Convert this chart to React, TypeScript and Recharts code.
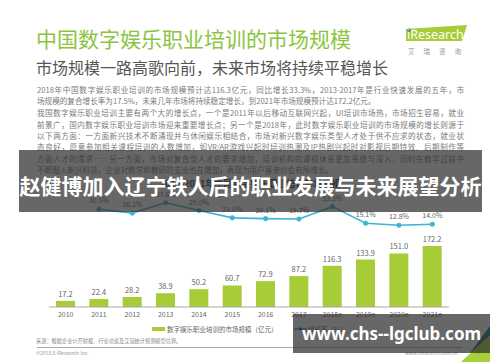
import React from 'react';
import { ComposedChart, Bar, Line, XAxis, YAxis, LabelList } from 'recharts';

const years = ['2010', '2011', '2012', '2013', '2014', '2015', '2016', '2017', '2018e', '2019e', '2020e', '2021e'];
const marketSize = [17.2, 22.4, 28.2, 38.9, 50.2, 60.7, 72.9, 87.2, 116.3, 133.9, 151.0, 172.2];
const growthRate = [null, 30.5, 26.2, 37.6, 29.0, 21.0, 20.1, 19.7, 33.3, 15.1, 12.8, 14.0];

const paragraphLines = [
  '2018年中国数字娱乐职业培训的市场规模预计达116.3亿元，同比增长33.3%，2013-2017年是行业快速发展的五年，市',
  '场规模的复合增长率为17.5%，未来几年市场将持续稳定增长，到2021年市场规模预计达172.2亿元。',
  '我国数字娱乐职业培训主要有两个大的增长点，一个是2011年以后移动互联网兴起，UI培训市场热，市场招生容易，就业',
  '前景广，国内数字娱乐职业培训市场迎来重要增长点；另一个是2018年，此时数字娱乐职业培训的市场规模的增长则源于',
  '以下两方面：一方面新兴技术不断涌现并与休闲娱乐相结合，市场对新兴数字娱乐类型人才处于供不应求的状态，就业状',
  '态良好，愿意参加相关课程培训的人数增加，如VR/AR游戏兴起时培训热潮及IP热剧兴起时对影视后期特效、后期制作等',
  '方面人才的渴求……另一方面，市场对复合型人才的要求增加，培训机构的课程体系更加系统与深入，同时在教学过程中',
  '不断融入新兴科技，企业对教学和教研的支出也在增加，表现为用户客单价会有所增长。',
];
const lineEnds = [false, true, false, false, false, false, false, true];

const rows = years.map((year, i) => ({ year, size: marketSize[i], rate: growthRate[i] }));

const font = '"Noto Sans CJK SC", "Noto Sans", sans-serif';
const green = '#a6cd38';
const cyan = '#3cb5d3';

export default function App() {
  return (
    <div style={{ position: 'absolute', left: 0, top: 0, width: 500, height: 362, background: '#fff', overflow: 'hidden', fontFamily: font }}>
      {/* header */}
      <div style={{ position: 'absolute', left: 36, top: 24, fontSize: 21, color: '#8cc43f', lineHeight: '28px', whiteSpace: 'nowrap' }}>
        中国数字娱乐职业培训的市场规模
      </div>
      <div style={{ position: 'absolute', left: 36, top: 56, fontSize: 16, color: '#555', lineHeight: '22px', whiteSpace: 'nowrap' }}>
        市场规模一路高歌向前，未来市场将持续平稳增长
      </div>
      <svg style={{ position: 'absolute', left: 0, top: 0 }} width={500} height={362}>
        <polygon points="406,29 467,25 462,41 406,41" fill={green} />
        <circle cx={409} cy={30} r={1.6} fill="#1d4f9c" />
        <text x={407} y={39} fontSize={12.5} fill="#fff" fontFamily="Noto Sans, sans-serif">iResearch</text>
        <text x={408} y={54} fontSize={6.5} fill="#999" letterSpacing={9} fontFamily={font}>艾瑞咨询</text>
        <polygon points="470,353 490,326 490,346" fill="#1f6e8a" />
        <polygon points="461,362 490,335 490,362" fill="#a9d03a" />
      </svg>
      {paragraphLines.map((t, i) => (
        <div
          key={i}
          style={{
            position: 'absolute',
            left: 37,
            top: 84 + i * 11.3 + (i >= 2 ? 0.8 : 0),
            width: 427,
            fontSize: 7.6,
            lineHeight: '11px',
            color: '#7a7a7a',
            textAlign: lineEnds[i] ? 'left' : 'justify',
            textAlignLast: lineEnds[i] ? 'left' : 'justify',
          }}
        >
          {t}
        </div>
      ))}
      <div style={{ position: 'absolute', left: 0, width: 500, top: 177, textAlign: 'center', fontSize: 9, fontWeight: 700, color: '#444' }}>
        2010-2021年中国数字娱乐职业培训市场规模
      </div>

      <div style={{ position: 'absolute', left: 0, top: 0 }}>
        <ComposedChart width={500} height={362} data={rows} margin={{ top: 190, right: 51, bottom: 35, left: 49 }}>
          <XAxis
            dataKey="year"
            interval={0}
            height={20}
            tickLine={false}
            tickSize={3}
            axisLine={{ stroke: '#a8a8a8' }}
            tick={{ fontSize: 7, fill: '#666', fontFamily: font }}
          />
          <YAxis yAxisId="bar" domain={[0, 330]} hide />
          <YAxis yAxisId="rate" orientation="right" domain={[-77, 51.6]} hide />
          <Bar yAxisId="bar" dataKey="size" fill={green} barSize={19} isAnimationActive={false}>
            <LabelList
              dataKey="size"
              position="top"
              offset={4}
              fontSize={7.5}
              fill="#666"
              fontFamily={font}
              formatter={(v: any) => Number(v).toFixed(1)}
            />
          </Bar>
          <Line
            yAxisId="rate"
            dataKey="rate"
            stroke={cyan}
            strokeWidth={1.6}
            dot={{ r: 2.3, fill: cyan, stroke: cyan, strokeWidth: 0.5 }}
            isAnimationActive={false}
          >
            <LabelList
              dataKey="rate"
              position="top"
              offset={6}
              fontSize={7}
              fill="#666"
              fontFamily={font}
              formatter={(v: any) => (v == null ? '' : Number(v).toFixed(1) + '%')}
            />
          </Line>
        </ComposedChart>
      </div>

      {/* legend */}
      <div style={{ position: 'absolute', left: 152, top: 322, fontSize: 6.5, color: '#666', lineHeight: '12px', whiteSpace: 'nowrap' }}>
        <span style={{ display: 'inline-block', width: 13, height: 4, background: green, verticalAlign: 'middle', marginRight: 2 }} />
        <span style={{ verticalAlign: 'middle' }}>数字娱乐职业培训的市场规模（亿元）</span>
      </div>
      <div style={{ position: 'absolute', left: 294, top: 322, fontSize: 6.5, color: '#666', lineHeight: '12px', whiteSpace: 'nowrap' }}>
        <svg width={13} height={6} style={{ verticalAlign: 'middle', marginRight: 1 }}>
          <line x1={0} y1={3} x2={13} y2={3} stroke="#1f7f99" strokeWidth={1.2} />
          <circle cx={6.5} cy={3} r={1.8} fill="#1f7f99" />
        </svg>
        <span style={{ verticalAlign: 'middle' }}>增长率（%）</span>
      </div>

      {/* footer */}
      <div style={{ position: 'absolute', left: 36, top: 337, fontSize: 5.2, color: '#888', whiteSpace: 'nowrap' }}>
        来源：根据企业公开财报、行业访谈及艾瑞统计预测模型估算。
      </div>
      <div style={{ position: 'absolute', left: 37, top: 347, width: 425, height: 1, background: '#aaa' }} />
      <div style={{ position: 'absolute', left: 36, top: 349, fontSize: 5, color: '#999', whiteSpace: 'nowrap' }}>©2018.8 iResearch Inc.</div>
      <div style={{ position: 'absolute', left: 405, top: 349, fontSize: 5, color: '#999', whiteSpace: 'nowrap' }}>www.iresearch.com.cn</div>
      <div style={{ position: 'absolute', left: 477, top: 347, fontSize: 6, color: '#999' }}>17</div>

      {/* overlays */}
      <div
        style={{
          position: 'absolute', left: 19, top: 150, width: 463, height: 62,
          background: 'rgba(45,45,45,0.72)', color: '#fff', fontSize: 21, fontWeight: 700,
          lineHeight: '62px', paddingTop: 4, boxSizing: 'border-box', textAlign: 'center', whiteSpace: 'nowrap',
        }}
      >
        赵健博加入辽宁铁人后的职业发展与未来展望分析
      </div>
      <div
        style={{
          position: 'absolute', left: 293, top: 314, width: 197, height: 39,
          background: 'rgba(45,45,45,0.72)', color: '#fff', fontSize: 17, fontWeight: 700,
          lineHeight: '39px', textAlign: 'center', whiteSpace: 'nowrap', fontFamily: '"Noto Sans", sans-serif',
        }}
      >
        www.chs--lgclub.com
      </div>
    </div>
  );
}
